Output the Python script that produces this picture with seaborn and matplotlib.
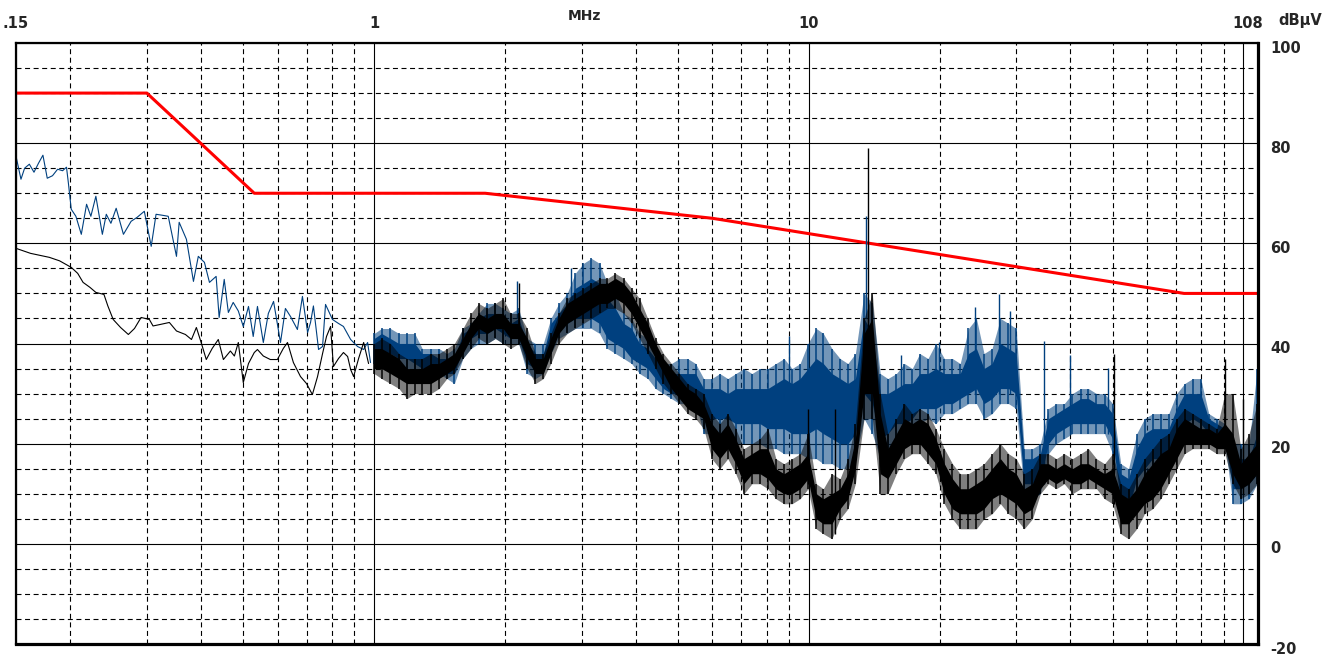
import matplotlib
matplotlib.use("Agg")
import matplotlib.pyplot as plt
import seaborn as sns
import pandas as pd
from matplotlib.transforms import ScaledTranslation

# ---------------- data ----------------
limit_f = [0.15, 0.30, 0.53, 1.8, 6.0, 73.0, 108.0]
limit_db = [90, 90, 70, 70, 65, 50, 50]

# low-frequency part: individual trace vertices
blue_sparse_f = [0.150, 0.154, 0.157, 0.161, 0.165, 0.169, 0.173, 0.177, 0.182, 0.187,
                 0.192, 0.196, 0.198, 0.201, 0.206, 0.212, 0.218, 0.223, 0.229, 0.237,
                 0.242, 0.248, 0.255, 0.265, 0.276, 0.285, 0.296, 0.307, 0.315, 0.326,
                 0.336, 0.351, 0.356, 0.370, 0.384, 0.394, 0.407, 0.418, 0.433, 0.440,
                 0.452, 0.462, 0.474, 0.487, 0.500, 0.514, 0.527, 0.539, 0.556, 0.571,
                 0.587, 0.609, 0.625, 0.642, 0.666, 0.684, 0.703, 0.714, 0.725, 0.745,
                 0.761, 0.773, 0.802, 0.828, 0.850, 0.883, 0.916, 0.946, 0.966, 0.981]
blue_sparse_db = [77.4, 72.8, 75.0, 75.8, 74.2, 76.0, 77.6, 73.0, 73.5, 74.8,
                  74.5, 75.2, 72.0, 66.8, 65.4, 61.8, 67.8, 65.4, 69.4, 61.8,
                  65.8, 64.0, 67.0, 61.8, 64.4, 65.2, 66.4, 59.4, 65.8, 65.6,
                  65.4, 57.4, 64.2, 60.8, 52.4, 57.4, 56.2, 52.2, 53.4, 45.2,
                  52.8, 46.2, 48.2, 46.5, 43.4, 47.4, 41.4, 47.4, 40.2, 46.0,
                  48.4, 40.2, 47.0, 45.4, 42.8, 49.4, 42.2, 44.2, 47.5, 38.8,
                  39.4, 47.8, 44.8, 44.0, 43.4, 40.8, 39.4, 38.8, 40.2, 36.2]

black_sparse_f = [0.150, 0.162, 0.179, 0.189, 0.201, 0.208, 0.214, 0.222, 0.229, 0.239,
                  0.244, 0.251, 0.261, 0.272, 0.281, 0.291, 0.304, 0.310, 0.322, 0.338,
                  0.351, 0.368, 0.380, 0.390, 0.400, 0.411, 0.424, 0.438, 0.450, 0.467,
                  0.477, 0.487, 0.500, 0.514, 0.530, 0.539, 0.556, 0.577, 0.599, 0.618,
                  0.632, 0.652, 0.677, 0.699, 0.721, 0.741, 0.761, 0.777, 0.794, 0.806,
                  0.828, 0.850, 0.869, 0.883, 0.897, 0.921, 0.946, 0.971]
black_sparse_db = [59.0, 58.0, 57.2, 56.5, 55.2, 54.0, 52.2, 51.2, 50.2, 49.8,
                   47.5, 44.8, 43.2, 41.8, 43.0, 45.2, 44.8, 43.5, 43.8, 44.2,
                   42.5, 41.8, 40.8, 43.2, 40.2, 36.8, 39.0, 40.8, 36.8, 38.5,
                   37.5, 40.2, 32.2, 36.0, 38.2, 38.8, 37.5, 36.8, 36.8, 39.0,
                   40.2, 36.2, 33.4, 32.0, 29.8, 33.4, 38.0, 41.4, 43.4, 35.4,
                   37.0, 38.2, 37.4, 34.8, 33.4, 37.0, 40.2, 36.0]

# dense part: frequency samples
dense_f = [1.00, 1.04, 1.09, 1.14, 1.19, 1.24, 1.29, 1.35, 1.41, 1.47,
           1.53, 1.60, 1.67, 1.74, 1.82, 1.90, 1.98, 2.06, 2.15, 2.25,
           2.35, 2.45, 2.55, 2.66, 2.78, 2.90, 3.03, 3.16, 3.30, 3.44,
           3.59, 3.75, 3.91, 4.08, 4.26, 4.44, 4.63, 4.83, 5.04, 5.26,
           5.49, 5.73, 5.98, 6.24, 6.51, 6.79, 7.09, 7.40, 7.72, 8.05,
           8.40, 8.77, 9.15, 9.55, 9.96, 10.4, 10.8, 11.3, 11.8, 12.3,
           12.8, 13.4, 14.0, 14.6, 15.2, 15.9, 16.6, 17.3, 18.0, 18.8,
           19.6, 20.5, 21.4, 22.3, 23.3, 24.3, 25.3, 26.4, 27.6, 28.8,
           30.0, 31.3, 32.7, 34.1, 35.6, 37.1, 38.7, 40.4, 42.2, 44.0,
           45.9, 47.9, 50.0, 52.2, 54.4, 56.8, 59.2, 61.8, 64.5, 67.3,
           70.2, 73.2, 76.4, 79.7, 83.2, 86.8, 90.6, 94.5, 98.6, 103.0,
           107.5]
# streak extent (min / max of the noisy trace)
black_lo = [34, 33, 32, 31, 29, 30, 30, 30, 31, 33,
            34, 37, 39, 41, 40, 41, 40, 39, 40, 35,
            32, 33, 36, 40, 42, 43, 44, 45, 46, 47,
            47, 46, 44, 41, 38, 35, 32, 30, 28, 26,
            25, 23, 17, 15, 17, 14, 10, 12, 12, 11,
            9, 8, 8, 9, 11, 3, 2, 1, 5, 7,
            12, 25, 25, 10, 10, 14, 17, 18, 18, 16,
            14, 8, 5, 3, 3, 3, 5, 6, 8, 6,
            5, 3, 5, 10, 12, 11, 12, 10, 11, 11,
            11, 9, 8, 2, 1, 3, 6, 7, 9, 12,
            15, 18, 19, 19, 19, 18, 18, 12, 9, 10,
            12]
black_hi = [40, 41, 40, 38, 37, 37, 37, 38, 38, 39,
            40, 43, 46, 48, 47, 48, 49, 46, 46, 43,
            38, 38, 42, 46, 49, 50, 51, 52, 53, 53,
            54, 53, 51, 49, 45, 41, 38, 36, 34, 32,
            31, 30, 26, 24, 26, 23, 19, 20, 21, 23,
            17, 16, 17, 18, 22, 12, 11, 14, 13, 17,
            24, 45, 50, 30, 22, 25, 28, 26, 27, 26,
            23, 19, 16, 14, 14, 15, 16, 18, 20, 18,
            17, 14, 15, 18, 18, 17, 18, 17, 18, 19,
            17, 16, 18, 12, 11, 14, 17, 19, 21, 22,
            25, 27, 26, 25, 24, 23, 30, 30, 19, 22,
            28]
# solid core of the noisy trace
black_core_lo = [35, 35, 34, 33, 32, 32, 32, 32, 33, 34,
                 35, 38, 41, 43, 42, 43, 43, 41, 41, 37,
                 34, 34, 38, 42, 44, 45, 46, 47, 48, 48,
                 49, 48, 46, 43, 40, 37, 34, 31, 29, 27,
                 26, 25, 19, 17, 19, 16, 12, 14, 14, 13,
                 11, 10, 10, 11, 13, 5, 4, 4, 7, 9,
                 15, 30, 30, 14, 13, 16, 19, 20, 20, 18,
                 16, 10, 7, 6, 6, 6, 7, 9, 10, 9,
                 8, 6, 7, 11, 13, 12, 13, 12, 12, 13,
                 12, 11, 10, 4, 4, 6, 8, 9, 11, 14,
                 17, 20, 20, 20, 20, 19, 19, 14, 11, 12,
                 14]
black_core_hi = [39, 39, 38, 37, 35, 35, 35, 36, 36, 37,
                 38, 41, 44, 46, 45, 46, 46, 44, 44, 41,
                 37, 37, 41, 45, 48, 49, 50, 51, 52, 52,
                 53, 52, 50, 47, 44, 40, 37, 35, 33, 31,
                 30, 28, 24, 22, 24, 21, 17, 18, 19, 19,
                 15, 14, 15, 16, 18, 10, 9, 10, 11, 14,
                 21, 42, 45, 26, 19, 22, 25, 24, 25, 24,
                 21, 16, 13, 11, 11, 12, 13, 15, 17, 15,
                 14, 11, 12, 16, 16, 15, 16, 15, 16, 16,
                 15, 14, 15, 10, 9, 11, 14, 16, 18, 19,
                 23, 25, 24, 23, 23, 22, 24, 22, 16, 18,
                 20]
blue_lo = [36, 37, 36, 36, 35, 35, 34, 34, 34, 33,
           32, 37, 39, 40, 40, 41, 40, 40, 40, 34,
           33, 34, 38, 41, 42, 43, 43, 43, 42, 39,
           38, 37, 36, 34, 33, 31, 30, 29, 28, 28,
           28, 22, 22, 22, 22, 20, 20, 20, 20, 19,
           19, 18, 18, 18, 17, 17, 16, 16, 15, 15,
           17, 25, 22, 17, 19, 21, 21, 22, 24, 25,
           24, 26, 26, 27, 28, 28, 25, 26, 28, 28,
           27, 10, 9, 10, 18, 20, 21, 22, 22, 22,
           22, 22, 18, 5, 4, 10, 12, 14, 14, 15,
           18, 22, 23, 22, 21, 21, 20, 8, 8, 9,
           12]
blue_hi = [42, 43, 43, 42, 42, 42, 39, 39, 39, 38,
           39, 43, 44, 46, 48, 48, 47, 46, 47, 41,
           40, 40, 45, 48, 50, 54, 56, 57, 56, 52,
           50, 46, 45, 42, 41, 39, 36, 36, 37, 37,
           36, 33, 33, 34, 33, 34, 35, 34, 35, 35,
           36, 37, 35, 36, 40, 43, 42, 39, 37, 36,
           38, 50, 48, 34, 33, 34, 36, 35, 38, 37,
           40, 37, 37, 36, 43, 45, 38, 39, 45, 44,
           43, 19, 19, 20, 27, 28, 28, 30, 31, 31,
           30, 30, 28, 16, 15, 22, 25, 26, 26, 26,
           30, 32, 33, 33, 26, 25, 24, 20, 20, 20,
           35]
blue_core_lo = [37, 38, 38, 37, 37, 36, 35, 35, 35, 34,
                34, 39, 41, 42, 42, 43, 42, 41, 41, 36,
                35, 35, 40, 43, 44, 45, 45, 45, 44, 41,
                40, 39, 37, 36, 35, 33, 31, 30, 30, 30,
                29, 25, 25, 25, 25, 24, 24, 24, 24, 23,
                23, 23, 22, 22, 22, 23, 22, 21, 20, 20,
                22, 30, 28, 21, 22, 24, 24, 25, 27, 27,
                27, 28, 28, 29, 30, 31, 28, 29, 31, 31,
                30, 12, 12, 13, 20, 22, 23, 24, 24, 24,
                24, 24, 21, 8, 7, 13, 15, 17, 17, 17,
                21, 24, 25, 24, 22, 22, 21, 11, 11, 12,
                14]
blue_core_hi = [41, 42, 41, 40, 40, 40, 38, 38, 37, 37,
                37, 42, 43, 45, 46, 46, 45, 44, 45, 40,
                38, 38, 44, 46, 48, 51, 52, 53, 52, 49,
                47, 44, 43, 40, 39, 37, 35, 34, 34, 34,
                34, 31, 31, 31, 30, 31, 31, 31, 31, 31,
                32, 33, 32, 33, 35, 37, 36, 34, 33, 32,
                33, 45, 42, 30, 30, 31, 32, 32, 34, 34,
                35, 34, 34, 34, 38, 39, 35, 36, 40, 39,
                38, 17, 17, 18, 25, 26, 27, 28, 29, 29,
                28, 28, 26, 14, 13, 19, 22, 23, 23, 23,
                27, 30, 30, 30, 25, 24, 23, 17, 17, 17,
                22]

# isolated spikes
black_spike_f = [2.15, 9.96, 11.5, 13.7, 50.4, 90.9, 99.5]
black_spike_lo = [42, 12, 2, 40, 8, 20, 10]
black_spike_hi = [52, 27, 27, 79, 38, 37, 29]
blue_spike_f = [2.13, 2.84, 9.0, 13.55, 16.3, 19.9, 24.1, 27.4, 29.0, 34.7, 39.9, 48.9, 107.8]
blue_spike_lo = [45, 48, 25, 45, 25, 28, 30, 30, 30, 12, 22, 22, 20]
blue_spike_hi = [52.4, 55, 41.4, 65.4, 37.8, 40.2, 47.2, 49.8, 46.4, 40.4, 37.8, 35.2, 35.4]

x_ticks = [0.15, 1, 10, 100, 108]
x_tick_labels = [".15", "1", "10", "", "108"]
x_minor = [0.2, 0.3, 0.4, 0.5, 0.6, 0.7, 0.8, 0.9,
           2, 3, 4, 5, 6, 7, 8, 9,
           20, 30, 40, 50, 60, 70, 80, 90]
y_ticks = [-20, 0, 20, 40, 60, 80, 100]
y_minor = [-15, -10, -5, 5, 10, 15, 25, 30, 35, 45, 50, 55, 65, 70, 75, 85, 90, 95]

BLUE = "#00407f"
RED = "#ff0000"

sns.set_style("white")
plt.rcParams["font.family"] = ["DejaVu Sans"]

fig = plt.figure(figsize=(13.38, 6.55), dpi=100)
ax = fig.add_axes([16 / 1338, 11 / 655, 1242 / 1338, 601 / 655])

limit_df = pd.DataFrame({"f": limit_f, "db": limit_db})
blue_df = pd.DataFrame({"f": blue_sparse_f, "db": blue_sparse_db})
black_df = pd.DataFrame({"f": black_sparse_f, "db": black_sparse_db})

sns.lineplot(data=limit_df, x="f", y="db", sort=False, estimator=None,
             color=RED, lw=2.2, ax=ax, zorder=2)


def draw_trace(sdf, lo, hi, clo, chi, sf, slo, shi, color, halo, z):
    sns.lineplot(data=sdf, x="f", y="db", sort=False, estimator=None,
                 color=color, lw=0.8, ax=ax, zorder=z)
    ax.fill_between(dense_f, lo, hi, color=color, alpha=halo, lw=0, zorder=z)
    ax.fill_between(dense_f, clo, chi, color=color, lw=0, zorder=z)
    ax.vlines(dense_f, lo, hi, color=color, lw=1.1, zorder=z)
    ax.vlines(sf, slo, shi, color=color, lw=1.0, zorder=z)


draw_trace(blue_df, blue_lo, blue_hi, blue_core_lo, blue_core_hi,
           blue_spike_f, blue_spike_lo, blue_spike_hi, BLUE, 0.55, 3)
draw_trace(black_df, black_lo, black_hi, black_core_lo, black_core_hi,
           black_spike_f, black_spike_lo, black_spike_hi, "black", 0.5, 4)

ax.set_xscale("log")
ax.set_xlim(0.15, 108)
ax.set_ylim(-20, 100)

ax.set_xticks(x_ticks, x_tick_labels)
ax.set_xticks(x_minor, [""] * len(x_minor), minor=True)
ax.set_yticks(y_ticks, [str(v) for v in y_ticks])
ax.set_yticks(y_minor, [""] * len(y_minor), minor=True)

ax.xaxis.tick_top()
ax.yaxis.tick_right()
ax.tick_params(which="both", length=0)
ax.tick_params(axis="x", which="major", pad=9, labelsize=10.5)
ax.tick_params(axis="y", which="major", pad=9, labelsize=10.5)
for lab in ax.get_xticklabels() + ax.get_yticklabels():
    lab.set_fontweight("bold")

ax.set_axisbelow(True)
ax.grid(which="major", color="black", lw=0.8, ls="-", zorder=0.5)
ax.grid(which="minor", color="black", lw=0.8, ls=(0, (4.5, 3.2)), zorder=0.5)

for side, w in (("left", 1.6), ("top", 1.6), ("right", 2.3), ("bottom", 2.3)):
    ax.spines[side].set_visible(True)
    ax.spines[side].set_color("black")
    ax.spines[side].set_linewidth(w)
    ax.spines[side].set_zorder(6)

ax.xaxis.set_label_position("top")
ax.set_xlabel("MHz", fontweight="bold", fontsize=10, va="center")
ax.xaxis.set_label_coords((584 - 16) / 1242, 1 + 27 / 601)
ax.yaxis.set_label_position("right")
ax.set_ylabel("dBµV", fontweight="bold", fontsize=10.5, rotation=0, ha="center", va="center")
ax.yaxis.set_label_coords((1300 - 16) / 1242, 1 + 22 / 601)

for lab in ax.get_yticklabels():
    lab.set_transform(lab.get_transform() + ScaledTranslation(0, -0.035, fig.dpi_scale_trans))
xl = ax.get_xticklabels()
xl[4].set_transform(xl[4].get_transform() + ScaledTranslation(-0.10, 0, fig.dpi_scale_trans))

fig.savefig("out.png", dpi=100)
